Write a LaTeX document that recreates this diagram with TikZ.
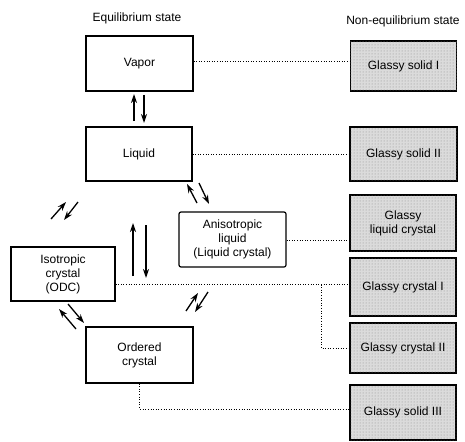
\documentclass[tikz,border=0pt]{standalone}
\usepackage{fontspec}
\setmainfont{Liberation Sans}
\usetikzlibrary{arrows.meta,calc,patterns}
\begin{document}
\begin{tikzpicture}[x=1pt,y=-1pt,
  every node/.style={font=\fontsize{12}{14}\selectfont},
  eqbox/.style={draw,line width=1.2pt,align=center,inner sep=0pt},
  nebox/.style={draw,line width=1.2pt,align=center,inner sep=0pt,fill=black!14,
     postaction={pattern=dots,pattern color=black!45}},
  link/.style={line width=1pt,dash pattern=on 1pt off 1.6pt},
  trans/.style={line width=1.3pt,-{Stealth[length=9pt,width=6pt]}}]
\useasboundingbox (0,0) rectangle (465,441);
% headings
\node (eqh) at (137,18) {Equilibrium state};
\node (neqh) at (403,21) {Non-equilibrium state};
% equilibrium boxes
\node[eqbox,minimum width=107pt,minimum height=55pt] (vapor) at (139.5,63.5) {Vapor};
\node[eqbox,minimum width=106pt,minimum height=54pt] (liquid) at (139,154) {Liquid};
\node[eqbox,rounded corners=2pt,minimum width=107pt,minimum height=55pt] (aniso) at (232.5,239.5) {Anisotropic\\liquid\\(Liquid crystal)};
\node[eqbox,minimum width=104pt,minimum height=54pt] (iso) at (63,274) {Isotropic\\crystal\\(ODC)};
\node[eqbox,minimum width=107pt,minimum height=56pt] (ordered) at (139.5,355) {Ordered\\crystal};
% non-equilibrium boxes
\node[nebox,minimum width=106pt,minimum height=50pt] (gs1) at (403.5,66) {Glassy solid I};
\node[nebox,minimum width=107pt,minimum height=54pt] (gs2) at (403.5,154) {Glassy solid II};
\node[nebox,minimum width=106pt,minimum height=56pt] (glc) at (403,223) {Glassy\\liquid crystal};
\node[nebox,minimum width=106pt,minimum height=58pt] (gc1) at (403,287) {Glassy crystal I};
\node[nebox,minimum width=106pt,minimum height=50pt] (gc2) at (403,348) {Glassy crystal II};
\node[nebox,minimum width=106pt,minimum height=55pt] (gs3) at (403,412.5) {Glassy solid III};
% dotted links
\draw[link] ([yshift=2pt]vapor.east) -- ([yshift=2pt]vapor.east -| gs1.west);
\draw[link] (liquid.east) -- (liquid.east -| gs2.west);
\draw[link] ([yshift=-1pt]aniso.east) -- ([yshift=-1pt]aniso.east -| glc.west);
\coordinate (isoout) at ([yshift=-10.5pt]iso.east);
\coordinate (branch) at (321,284.5);
\draw[link] (isoout) -- (isoout -| gc1.west);
\draw[link] (branch) |- (gc2.west);
\coordinate (ordturn) at (139.5,409);
\draw[link] (ordered.south) -- (ordturn) -- (ordturn -| gs3.west);
% transition arrows
\coordinate (a1s) at (134,121); \coordinate (a1e) at (134,94);
\coordinate (a2s) at (144,95);  \coordinate (a2e) at (144,123);
\draw[trans] (a1s) -- (a1e);
\draw[trans] (a2s) -- (a2e);
\coordinate (b1s) at (197,203); \coordinate (b1e) at (187,184);
\coordinate (b2s) at (199,183); \coordinate (b2e) at (209,204);
\draw[trans] (b1s) -- (b1e);
\draw[trans] (b2s) -- (b2e);
\coordinate (c1s) at (133,276); \coordinate (c1e) at (133,223);
\coordinate (c2s) at (146,225); \coordinate (c2e) at (146,278);
\draw[trans] (c1s) -- (c1e);
\draw[trans] (c2s) -- (c2e);
\coordinate (d1s) at (51,219); \coordinate (d1e) at (66,202);
\coordinate (d2s) at (78,202); \coordinate (d2e) at (64,220);
\draw[trans] (d1s) -- (d1e);
\draw[trans] (d2s) -- (d2e);
\coordinate (e1s) at (76,329); \coordinate (e1e) at (59,309);
\coordinate (e2s) at (68,304); \coordinate (e2e) at (84,323);
\draw[trans] (e1s) -- (e1e);
\draw[trans] (e2s) -- (e2e);
\coordinate (f1s) at (186,311); \coordinate (f1e) at (198,293);
\coordinate (f2s) at (208,292); \coordinate (f2e) at (195,312);
\draw[trans] (f1s) -- (f1e);
\draw[trans] (f2s) -- (f2e);
\end{tikzpicture}
\end{document}
